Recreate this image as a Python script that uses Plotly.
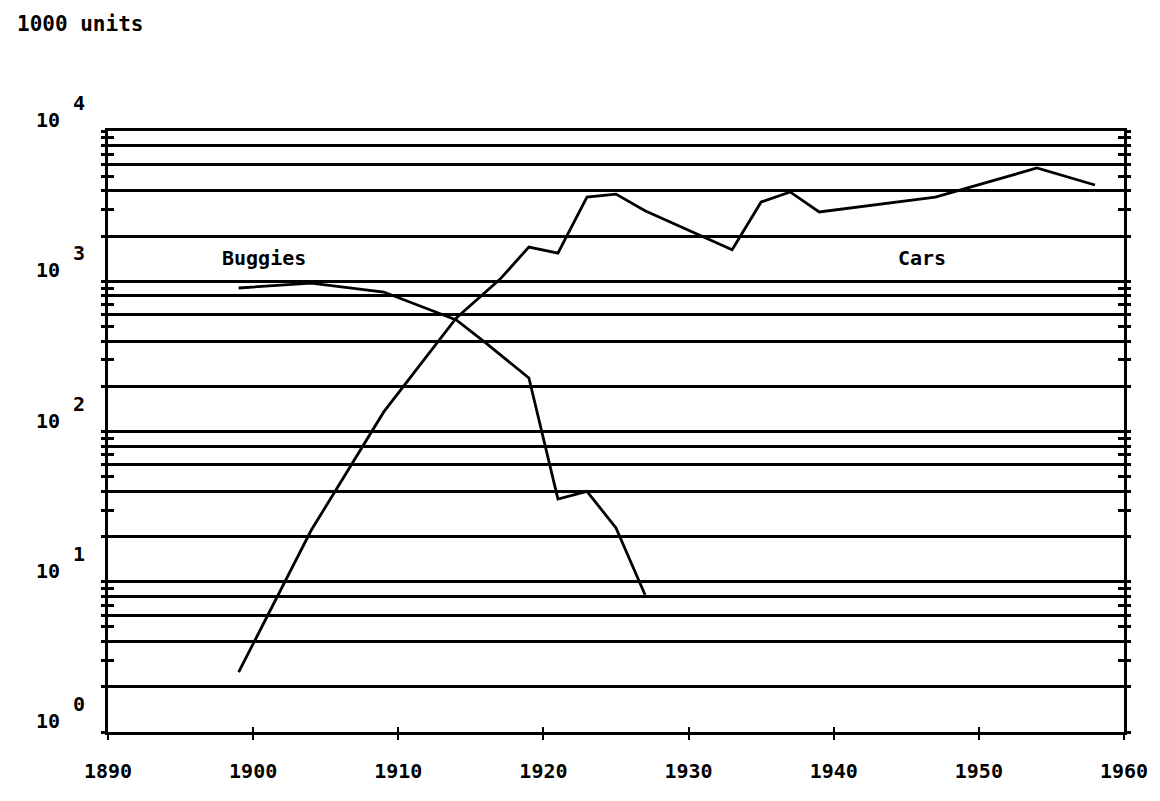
import plotly.graph_objects as go

cars_years = [1899, 1904, 1909, 1914, 1917, 1919, 1921, 1923, 1925, 1927, 1933, 1935, 1937, 1939, 1947, 1954, 1958]
cars_values = [2.5, 22, 135, 570, 1030, 1690, 1540, 3630, 3800, 2950, 1620, 3370, 3930, 2890, 3630, 5670, 4370]

buggy_years = [1899, 1904, 1909, 1914, 1916, 1919, 1921, 1923, 1925, 1927]
buggy_values = [902, 973, 848, 552, 390, 227, 35.5, 40, 22.8, 8.2]

x_ticks = [1890, 1900, 1910, 1920, 1930, 1940, 1950, 1960]
y_exponents = [0, 1, 2, 3, 4]
decades = [1, 10, 100, 1000]
grid_vals = [d * m for d in decades for m in (1, 2, 4, 6, 8)] + [10000]
minor_vals = [d * m for d in decades for m in range(1, 10)] + [10000]

FONT = dict(family="DejaVu Sans Mono", size=20, color="black", weight="bold")

# plot area in page pixels (page body has 8px margin)
PL, PR, PT, PB = 108, 1122, 131, 732


def px(xp):
    return (xp - PL) / (PR - PL)


def py(yp):
    return (PB - yp) / (PB - PT)


fig = go.Figure()
fig.add_trace(go.Scatter(x=cars_years, y=cars_values, mode="lines",
                         line=dict(color="black", width=2.8), name="Cars"))
fig.add_trace(go.Scatter(x=buggy_years, y=buggy_values, mode="lines",
                         line=dict(color="black", width=2.8), name="Buggies"))
# helper traces so overlay axes are drawn
fig.add_trace(go.Scatter(x=[], y=[], xaxis="x2", yaxis="y2", showlegend=False))
fig.add_trace(go.Scatter(x=[], y=[], xaxis="x", yaxis="y3", showlegend=False))

fig.update_layout(
    width=1152, height=793,
    margin=dict(l=PL - 8, r=1160 - PR - 2, t=PT - 8, b=801 - PB),
    paper_bgcolor="white", plot_bgcolor="white",
    showlegend=False,
    font=FONT,
    xaxis=dict(range=[1890, 1960], tickvals=x_ticks, ticks="outside", ticklen=5,
               tickwidth=2, tickcolor="black", showline=True, linewidth=2.5,
               linecolor="black", mirror=True, showgrid=False, zeroline=False,
               ticklabelstandoff=14, tickfont=FONT),
    xaxis2=dict(range=[1890, 1960], overlaying="x", tickvals=x_ticks, ticks="inside",
                ticklen=5, tickwidth=2, tickcolor="black", showticklabels=False,
                showgrid=False, zeroline=False, showline=False),
    yaxis=dict(type="log", range=[0, 4], tickvals=grid_vals, showticklabels=False,
               ticks="", showgrid=True, gridcolor="black", gridwidth=2.5,
               showline=True, linewidth=2.5, linecolor="black", mirror=True,
               zeroline=False),
    yaxis2=dict(type="log", range=[0, 4], overlaying="y", tickvals=minor_vals,
                ticks="outside", ticklen=6, tickwidth=2.5, tickcolor="black",
                mirror="ticks", showticklabels=False, showgrid=False,
                zeroline=False, showline=False),
    yaxis3=dict(type="log", range=[0, 4], overlaying="y", tickvals=minor_vals,
                ticks="inside", ticklen=6, tickwidth=2.5, tickcolor="black",
                mirror="ticks", showticklabels=False, showgrid=False,
                zeroline=False, showline=False),
)

# y-axis labels: "10" with raised exponent
for k in y_exponents:
    fig.add_annotation(x=px(62), y=k, xref="paper", yref="y", text="10",
                       showarrow=False, font=FONT, xanchor="right",
                       yanchor="bottom", yshift=-3)
    fig.add_annotation(x=px(71), y=k, xref="paper", yref="y", text=str(k),
                       showarrow=False, font=FONT, xanchor="left",
                       yanchor="bottom", yshift=14)

fig.add_annotation(x=px(15), y=py(10), xref="paper", yref="paper",
                   text="1000 units", showarrow=False, font=dict(FONT, size=21),
                   xanchor="left", yanchor="top")

fig.add_annotation(x=px(220), y=py(258), xref="paper", yref="paper",
                   text="Buggies", showarrow=False, font=FONT,
                   xanchor="left", yanchor="middle")
fig.add_annotation(x=px(894), y=py(258), xref="paper", yref="paper",
                   text="Cars", showarrow=False, font=FONT,
                   xanchor="left", yanchor="middle")

fig.write_html("out.html")
